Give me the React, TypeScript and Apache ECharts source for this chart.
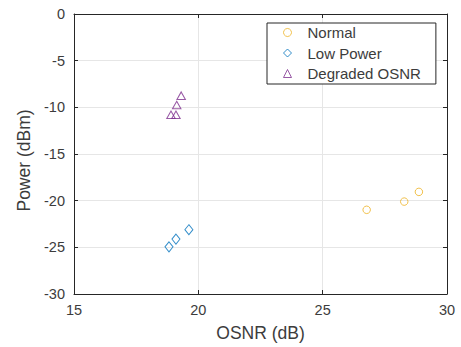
import React, { useEffect, useRef } from "react";
import * as echarts from "echarts";

const normalOsnr = [26.77, 28.28, 28.87];
const normalPower = [-20.98, -20.1, -19.06];
const lowOsnr = [18.82, 19.1, 19.62];
const lowPower = [-24.95, -24.12, -23.11];
const degOsnr = [18.9, 19.1, 19.13, 19.31];
const degPower = [-10.8, -10.8, -9.75, -8.75];

const xTicks = { min: 15, max: 30, interval: 5 };
const yTicks = { min: -30, max: 0, interval: 5 };

const FONT = "'Liberation Sans', Arial, Helvetica, sans-serif";
const AX = "#262626";
const TXT = "#3c3c3c";
const GRID = "#e6e6e6";

const pairs = (xs: number[], ys: number[]) => xs.map((x, i) => [x, ys[i]]);

export default function App() {
  const ref = useRef<HTMLDivElement>(null);
  useEffect(() => {
    if (!ref.current) return;
    const chart = echarts.init(ref.current, undefined, { renderer: "svg" });
    const baseAxis = {
      type: "value" as const,
      axisLine: { show: true, onZero: false, lineStyle: { color: AX, width: 1 } },
      axisTick: { show: true, inside: true, length: 4, lineStyle: { color: AX } },
    };
    chart.setOption({
      animation: false,
      backgroundColor: "#ffffff",
      textStyle: { fontFamily: FONT },
      grid: { left: 74, top: 14, width: 373, height: 281, show: false },
      legend: {
        orient: "vertical",
        left: 267,
        top: 23,
        padding: [2, 15, 3, 16],
        itemWidth: 8,
        itemHeight: 8,
        itemGap: 5.5,
        borderColor: AX,
        borderWidth: 1,
        backgroundColor: "#ffffff",
        itemStyle: { borderWidth: 1 },
        textStyle: { fontSize: 15, color: TXT, fontFamily: FONT, lineHeight: 15, padding: [0, 0, 0, 11] },
        data: ["Normal", "Low Power", "Degraded OSNR"],
      },
      xAxis: [
        {
          ...baseAxis,
          ...xTicks,
          position: "bottom",
          axisLabel: { fontSize: 14.5, color: TXT, margin: 8, fontFamily: FONT },
          splitLine: { show: true, lineStyle: { color: GRID, width: 1 } },
          name: "OSNR (dB)",
          nameLocation: "middle",
          nameGap: 30,
          nameTextStyle: { fontSize: 17.5, color: TXT, fontFamily: FONT },
        },
        {
          ...baseAxis,
          ...xTicks,
          position: "top",
          axisLabel: { show: false },
          splitLine: { show: false },
        },
      ],
      yAxis: [
        {
          ...baseAxis,
          ...yTicks,
          position: "left",
          axisLabel: { fontSize: 14.5, color: TXT, margin: 9, fontFamily: FONT },
          splitLine: { show: true, lineStyle: { color: GRID, width: 1 } },
          name: "Power (dBm)",
          nameLocation: "middle",
          nameGap: 35,
          nameTextStyle: { fontSize: 17.5, color: TXT, fontFamily: FONT, padding: [0, 13, 0, 0] },
        },
        {
          ...baseAxis,
          ...yTicks,
          position: "right",
          axisLabel: { show: false },
          splitLine: { show: false },
        },
      ],
      series: [
        {
          name: "Normal",
          type: "scatter",
          symbol: "circle",
          symbolSize: 7.5,
          data: pairs(normalOsnr, normalPower),
          itemStyle: { color: "rgba(255,255,255,0)", borderColor: "#EDB120", borderWidth: 1 },
          emphasis: { disabled: true },
        },
        {
          name: "Low Power",
          type: "scatter",
          symbol: "diamond",
          symbolSize: [8, 10],
          data: pairs(lowOsnr, lowPower),
          itemStyle: { color: "rgba(255,255,255,0)", borderColor: "#0072BD", borderWidth: 1 },
          emphasis: { disabled: true },
        },
        {
          name: "Degraded OSNR",
          type: "scatter",
          symbol: "triangle",
          symbolSize: [8.5, 7.5],
          data: pairs(degOsnr, degPower),
          itemStyle: { color: "rgba(255,255,255,0)", borderColor: "#7E2F8E", borderWidth: 1 },
          emphasis: { disabled: true },
        },
      ],
    });
    return () => chart.dispose();
  }, []);
  return (
    <div
      ref={ref}
      style={{ position: "absolute", left: 0, top: 0, width: 461, height: 347 }}
    />
  );
}
